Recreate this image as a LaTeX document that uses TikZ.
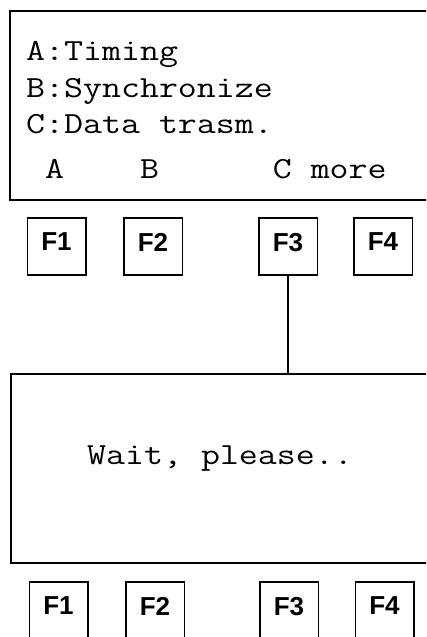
\documentclass[tikz,border=0pt]{standalone}
\usepackage{fontspec}
\newfontfamily\monofont{Latin Modern Mono}[FakeStretch=1.2]
\newfontfamily\keyfont{Liberation Sans}[BoldFont={* Bold}]
\tikzset{
  screen/.style={draw, line width=1.5pt, inner sep=0pt, anchor=north west, minimum width=440pt, minimum height=189pt},
  fkey/.style={draw, line width=1.5pt, inner sep=0pt, minimum width=58.5pt, minimum height=57pt, text depth=9pt,
    font=\keyfont\bfseries\fontsize{26}{28}\selectfont},
  lcd/.style={anchor=base west, inner sep=0pt, font=\monofont\fontsize{30.7}{36}\selectfont},
  wire/.style={line width=1.5pt}
}
\begin{document}
\begin{tikzpicture}[x=1pt,y=-1pt]
\useasboundingbox (0,0) rectangle (426,637);
\clip (0,0) rectangle (426,637);
% first screen
\node[screen] (scr1) at (9,10) {};
\node[lcd] (l1) at (26,60) {A:Timing};
\node[lcd] (l2) at (26,97) {B:Synchronize};
\node[lcd] (l3) at (26,133) {C:Data trasm.};
\node[lcd] (l4) at (26,178) {\ A\ \ \ \ B\ \ \ \ \ \ C\ more};
% first keys
\node[fkey] (a1) at (56.5,246.5) {F1};
\node[fkey] (a2) at (153,246.5) {F2};
\node[fkey] (a3) at (288,246.5) {F3};
\node[fkey] (a4) at (383,246.5) {F4};
% second screen
\node[screen] (scr2) at (10,373) {};
\node[lcd] (w) at (87,464) {Wait, please..};
% second keys
\node[fkey] (b1) at (58.5,610.5) {F1};
\node[fkey] (b2) at (155,610.5) {F2};
\node[fkey] (b3) at (289,610.5) {F3};
\node[fkey] (b4) at (384.5,610.5) {F4};
% connector
\draw[wire] (a3.south) -- (a3.south |- scr2.north);
\end{tikzpicture}
\end{document}
